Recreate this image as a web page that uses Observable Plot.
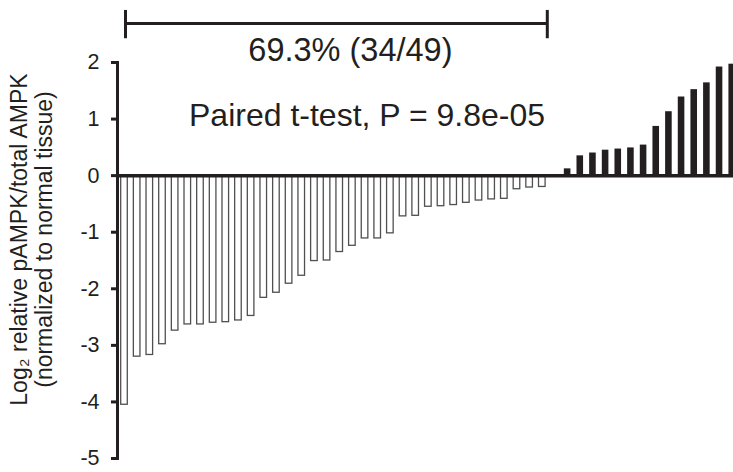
<!DOCTYPE html>
<html>
<head>
<meta charset="utf-8">
<script src="https://cdn.jsdelivr.net/npm/d3@7"></script>
<script src="https://cdn.jsdelivr.net/npm/@observablehq/plot@0.6"></script>
<style>
  body { margin: 0; background: #fff; }
</style>
</head>
<body>
<div id="chart"></div>
<script>
// Log2 relative pAMPK/total AMPK per sample, sorted (waterfall)
const sampleValues = [
  -4.05, -3.20, -3.17, -2.98, -2.74, -2.63, -2.63, -2.60, -2.59, -2.56,
  -2.48, -2.16, -2.07, -1.91, -1.77, -1.51, -1.50, -1.35, -1.24, -1.11,
  -1.11, -1.02, -0.72, -0.71, -0.55, -0.54, -0.52, -0.48, -0.44, -0.42,
  -0.41, -0.24, -0.21, -0.20, 0.00, 0.12, 0.35, 0.40, 0.45, 0.47,
  0.49, 0.54, 0.87, 1.13, 1.39, 1.52, 1.64, 1.92, 1.97
];
const yTicks = [2, 1, 0, -1, -2, -3, -4, -5];
const yLabel = "Log\u2082 relative pAMPK/total AMPK\n(normalized to normal tissue)";
const bracketLabel = "69.3% (34/49)";
const testLabel = "Paired t-test, P = 9.8e-05";

const samples = sampleValues.map((v, i) => ({id: i, value: v}));
const negatives = samples.filter(d => d.value < 0);
const others = samples.filter(d => d.value >= 0);
const lastNeg = negatives.length - 1;
const ink = "#231f20";
const font = "'Liberation Sans', Arial, Helvetica, sans-serif";

const chart = Plot.plot({
  width: 733,
  height: 472,
  marginTop: 62,
  marginBottom: 14,
  marginLeft: 117,
  marginRight: 0,
  style: {fontFamily: font, fontSize: "21px", color: ink, background: "#fff"},
  x: {type: "band", domain: samples.map(d => d.id), range: [120.7, 735], paddingInner: 0.48, paddingOuter: 0, round: false, axis: null},
  y: {domain: [-5, 2], label: null, axis: null},
  marks: [
    Plot.barY(negatives, {x: "id", y: "value", fill: "white", stroke: "#505050", strokeWidth: 1.3}),
    Plot.barY(others, {x: "id", y: "value", fill: ink}),
    Plot.ruleY([0], {stroke: ink, strokeWidth: 3.5}),
    Plot.axisY({ticks: yTicks, tickFormat: d => `${d}`, tickSize: 6, tickPadding: 12, stroke: ink, strokeWidth: 3, fill: ink, fontSize: 21.5, label: null}),
    Plot.frame({anchor: "left", stroke: ink, strokeWidth: 3}),
    // bracket over the negative samples
    Plot.ruleY([bracketLabel], {x1: () => 0, x2: () => lastNeg, y: () => 2.69, stroke: ink, strokeWidth: 3, insetLeft: 4.3, insetRight: -1.7}),
    Plot.ruleX([0], {y1: 2.42, y2: 2.92, stroke: ink, strokeWidth: 3, dx: 1}),
    Plot.ruleX([lastNeg], {y1: 2.42, y2: 2.92, stroke: ink, strokeWidth: 3, dx: 5}),
    Plot.text([bracketLabel], {x: () => 18, y: () => 2.02, text: d => d, lineAnchor: "bottom", textAnchor: "middle", fontSize: 32.5, fill: ink, dx: -2}),
    Plot.text([testLabel], {x: () => 19, y: () => 0.869, text: d => d, lineAnchor: "bottom", textAnchor: "middle", fontSize: 32, fill: ink, dx: 2}),
    Plot.text([yLabel], {frameAnchor: "left", rotate: -90, text: d => d, textAnchor: "middle", fontSize: 23, lineHeight: 1.1, fill: ink, dx: -86, dy: -21})
  ]
});
document.getElementById("chart").appendChild(chart);
</script>
</body>
</html>
